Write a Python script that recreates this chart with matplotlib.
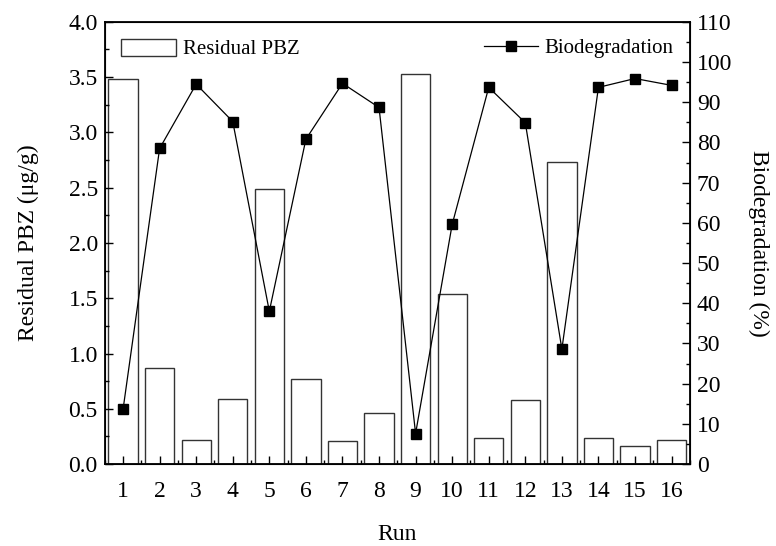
import numpy as np
import matplotlib
matplotlib.use('Agg')
from matplotlib import pyplot as plt
from matplotlib.ticker import MultipleLocator

plt.rcParams['font.family'] = ['Liberation Serif', 'DejaVu Serif']
plt.rcParams['font.size'] = 17

runs = np.arange(1, 17)
residual_pbz = [3.48, 0.87, 0.22, 0.59, 2.49, 0.77, 0.21, 0.46,
                3.53, 1.54, 0.24, 0.58, 2.73, 0.24, 0.16, 0.22]
biodegradation = [13.6, 78.5, 94.5, 85.2, 38.0, 80.8, 94.7, 88.7,
                  7.6, 59.6, 93.7, 84.9, 28.6, 93.7, 95.9, 94.2]

fig = plt.figure(figsize=(7.76, 5.46), dpi=100)
ax = fig.add_axes([0.135, 0.150, 0.754, 0.810])

ax.bar(runs, residual_pbz, width=0.8, facecolor='white', edgecolor='#333333',
       linewidth=1.0, label='Residual PBZ')
ax.set_xlim(0.5, 16.5)
ax.set_ylim(0, 4.0)
ax.set_xticks(runs)
ax.xaxis.set_minor_locator(MultipleLocator(0.5))
ax.yaxis.set_major_locator(MultipleLocator(0.5))
ax.yaxis.set_minor_locator(MultipleLocator(0.25))
ax.yaxis.set_major_formatter(matplotlib.ticker.FormatStrFormatter('%.1f'))
ax.tick_params(which='both', direction='in', top=False)
ax.tick_params(which='major', length=6, width=1)
ax.tick_params(which='minor', length=3, width=1)
ax.tick_params(axis='x', pad=12)
ax.tick_params(axis='y', pad=5)
ax.set_xlabel('Run', labelpad=16)
ax.set_ylabel('Residual PBZ (\u03bcg/g)', labelpad=21)
for s in ax.spines.values():
    s.set_linewidth(1.3)

ax2 = ax.twinx()
ax2.plot(runs, biodegradation, color='black', linewidth=0.9, marker='s',
         markersize=7, label='Biodegradation')
ax2.set_ylim(0, 110)
ax2.yaxis.set_major_locator(MultipleLocator(10))
ax2.yaxis.set_minor_locator(MultipleLocator(5))
ax2.tick_params(which='both', direction='in', pad=5)
ax2.tick_params(which='major', length=6, width=1)
ax2.tick_params(which='minor', length=3, width=1)
ax2.set_ylabel('Biodegradation (%)', rotation=270, labelpad=27)

ax.legend(loc='upper left', frameon=False, fontsize=15, handlelength=2.6,
          handleheight=0.9, borderaxespad=0.5, borderpad=0.3,
          handletextpad=0.35)
ax2.legend(loc='upper right', frameon=False, fontsize=15, handlelength=2.6,
           borderaxespad=0.5, borderpad=0.3, handletextpad=0.3)

fig.savefig('out.png', dpi=100)
